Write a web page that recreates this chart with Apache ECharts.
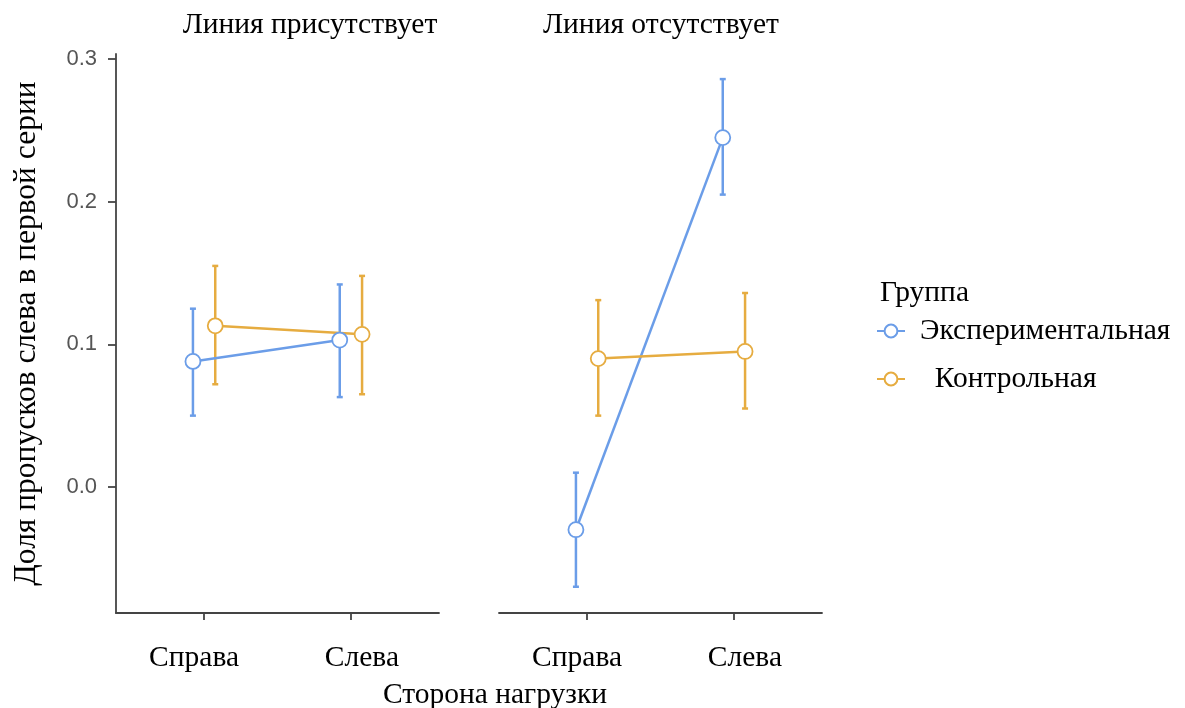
<!DOCTYPE html>
<html>
<head>
<meta charset="utf-8">
<script src="https://cdn.jsdelivr.net/npm/echarts@6/dist/echarts.min.js"></script>
<style>
  html, body { margin: 0; padding: 0; background: #fff; }
  #chart { width: 1185px; height: 708px; }
</style>
</head>
<body>
<div id="chart"></div>
<script>
// Categories and facets
const categories = ['Справа', 'Слева'];
const panels = ['Линия присутствует', 'Линия отсутствует'];
const groups = ['Экспериментальная', 'Контрольная'];
const yTicks = [0, 0.1, 0.2, 0.3];

// Experimental group: mean and interval per panel, [Справа, Слева]
const expMean = [[0.088, 0.103], [-0.030, 0.245]];
const expLow  = [[0.050, 0.063], [-0.070, 0.205]];
const expHigh = [[0.125, 0.142], [0.010, 0.286]];

// Control group
const ctrlMean = [[0.113, 0.107], [0.090, 0.095]];
const ctrlLow  = [[0.072, 0.065], [0.050, 0.055]];
const ctrlHigh = [[0.155, 0.148], [0.131, 0.136]];

const COLORS = ['#6B9DE8', '#E6AC40'];
const DODGE = 0.076;
const SERIF = '"Liberation Serif", "DejaVu Serif", serif';
const SANS = '"Liberation Sans", Arial, sans-serif';
const AXIS_COLOR = '#444';
const TEXT_SIZE = 29.5;

const groupData = [
  { mean: expMean, low: expLow, high: expHigh, shift: -DODGE },
  { mean: ctrlMean, low: ctrlLow, high: ctrlHigh, shift: DODGE }
];

const chart = echarts.init(document.getElementById('chart'), null, { renderer: 'canvas' });

const grids = [
  { left: 116, right: 746, top: 54, bottom: 95 },
  { left: 499, right: 363, top: 54, bottom: 95 }
];

const xAxes = grids.map((g, i) => ({
  type: 'value',
  gridIndex: i,
  min: 0.4,
  max: 2.6,
  axisLine: { show: true, onZero: false, lineStyle: { color: AXIS_COLOR, width: 1.8 } },
  axisTick: { show: true, customValues: [1, 2], length: 7, lineStyle: { color: AXIS_COLOR, width: 1.8 } },
  axisLabel: {
    customValues: [1, 2],
    // first category label sits a little left of its tick, second a little right
    formatter: v => (Math.round(v) === 1 ? '{a|' : '{b|') + categories[Math.round(v) - 1] + '}',
    margin: 30,
    rich: {
      a: { fontFamily: SERIF, fontSize: TEXT_SIZE, color: '#000', padding: [0, 20, 0, 0] },
      b: { fontFamily: SERIF, fontSize: TEXT_SIZE, color: '#000', padding: [0, 0, 0, 22] }
    }
  },
  splitLine: { show: false }
}));

const yAxes = grids.map((g, i) => ({
  type: 'value',
  gridIndex: i,
  min: -0.0884,
  max: 0.3036,
  show: i === 0,
  name: i === 0 ? 'Доля пропусков слева в первой серии' : '',
  nameLocation: 'middle',
  nameGap: 73,
  nameTextStyle: { fontFamily: SERIF, fontSize: 31.5, color: '#000' },
  axisLine: { show: i === 0, onZero: false, lineStyle: { color: AXIS_COLOR, width: 1.8 } },
  axisTick: { show: i === 0, customValues: yTicks, length: 8, lineStyle: { color: AXIS_COLOR, width: 1.8 } },
  axisLabel: {
    show: i === 0,
    customValues: yTicks,
    formatter: v => v.toFixed(1),
    margin: 19,
    fontFamily: SANS, fontSize: 22, color: '#555'
  },
  splitLine: { show: false }
}));

const series = [];
panels.forEach((p, pi) => {
  groupData.forEach((gd, gi) => {
    // group means joined by a line
    series.push({
      type: 'line',
      name: groups[gi],
      xAxisIndex: pi,
      yAxisIndex: pi,
      z: 3,
      color: COLORS[gi],
      data: categories.map((c, ci) => [ci + 1 + gd.shift, gd.mean[pi][ci]]),
      symbol: 'circle',
      symbolSize: 15,
      itemStyle: { color: '#fff', borderColor: COLORS[gi], borderWidth: 1.8 },
      lineStyle: { color: COLORS[gi], width: 2.5 },
      emphasis: { disabled: true },
      silent: true
    });
    // interval bars with caps
    series.push({
      type: 'custom',
      name: 'interval-' + gi,
      xAxisIndex: pi,
      yAxisIndex: pi,
      z: 2,
      data: categories.map((c, ci) => [ci + 1 + gd.shift, gd.low[pi][ci], gd.high[pi][ci]]),
      renderItem: (params, api) => {
        const x = api.value(0);
        const top = api.coord([x, api.value(2)]);
        const bot = api.coord([x, api.value(1)]);
        const cap = 3;
        const style = { stroke: COLORS[gi], lineWidth: 2.5 };
        return {
          type: 'group',
          children: [
            { type: 'line', shape: { x1: top[0], y1: top[1], x2: bot[0], y2: bot[1] }, style },
            { type: 'line', shape: { x1: top[0] - cap, y1: top[1], x2: top[0] + cap, y2: top[1] }, style },
            { type: 'line', shape: { x1: bot[0] - cap, y1: bot[1], x2: bot[0] + cap, y2: bot[1] }, style }
          ]
        };
      },
      silent: true
    });
  });
});

const titleText = { fontFamily: SERIF, fontSize: TEXT_SIZE, fontWeight: 'normal', color: '#000' };

const option = {
  backgroundColor: '#fff',
  animation: false,
  grid: grids,
  xAxis: xAxes,
  yAxis: yAxes,
  title: [
    { text: panels[0], left: 305, top: 5, textAlign: 'center', textStyle: titleText },
    { text: panels[1], left: 656, top: 5, textAlign: 'center', textStyle: titleText },
    { text: 'Сторона нагрузки', left: 490, top: 675, textAlign: 'center', textStyle: titleText },
    { text: 'Группа', left: 875, top: 273, textStyle: titleText }
  ],
  legend: {
    data: groups,
    orient: 'vertical',
    left: 871,
    top: 311,
    itemGap: 18,
    itemWidth: 28,
    itemHeight: 16,
    formatter: name => name === groups[1] ? '  ' + name : name,
    textStyle: { fontFamily: SERIF, fontSize: TEXT_SIZE, color: '#000', padding: [0, 0, 0, 10] },
    selectedMode: false
  },
  series
};

chart.setOption(option);
</script>
</body>
</html>
